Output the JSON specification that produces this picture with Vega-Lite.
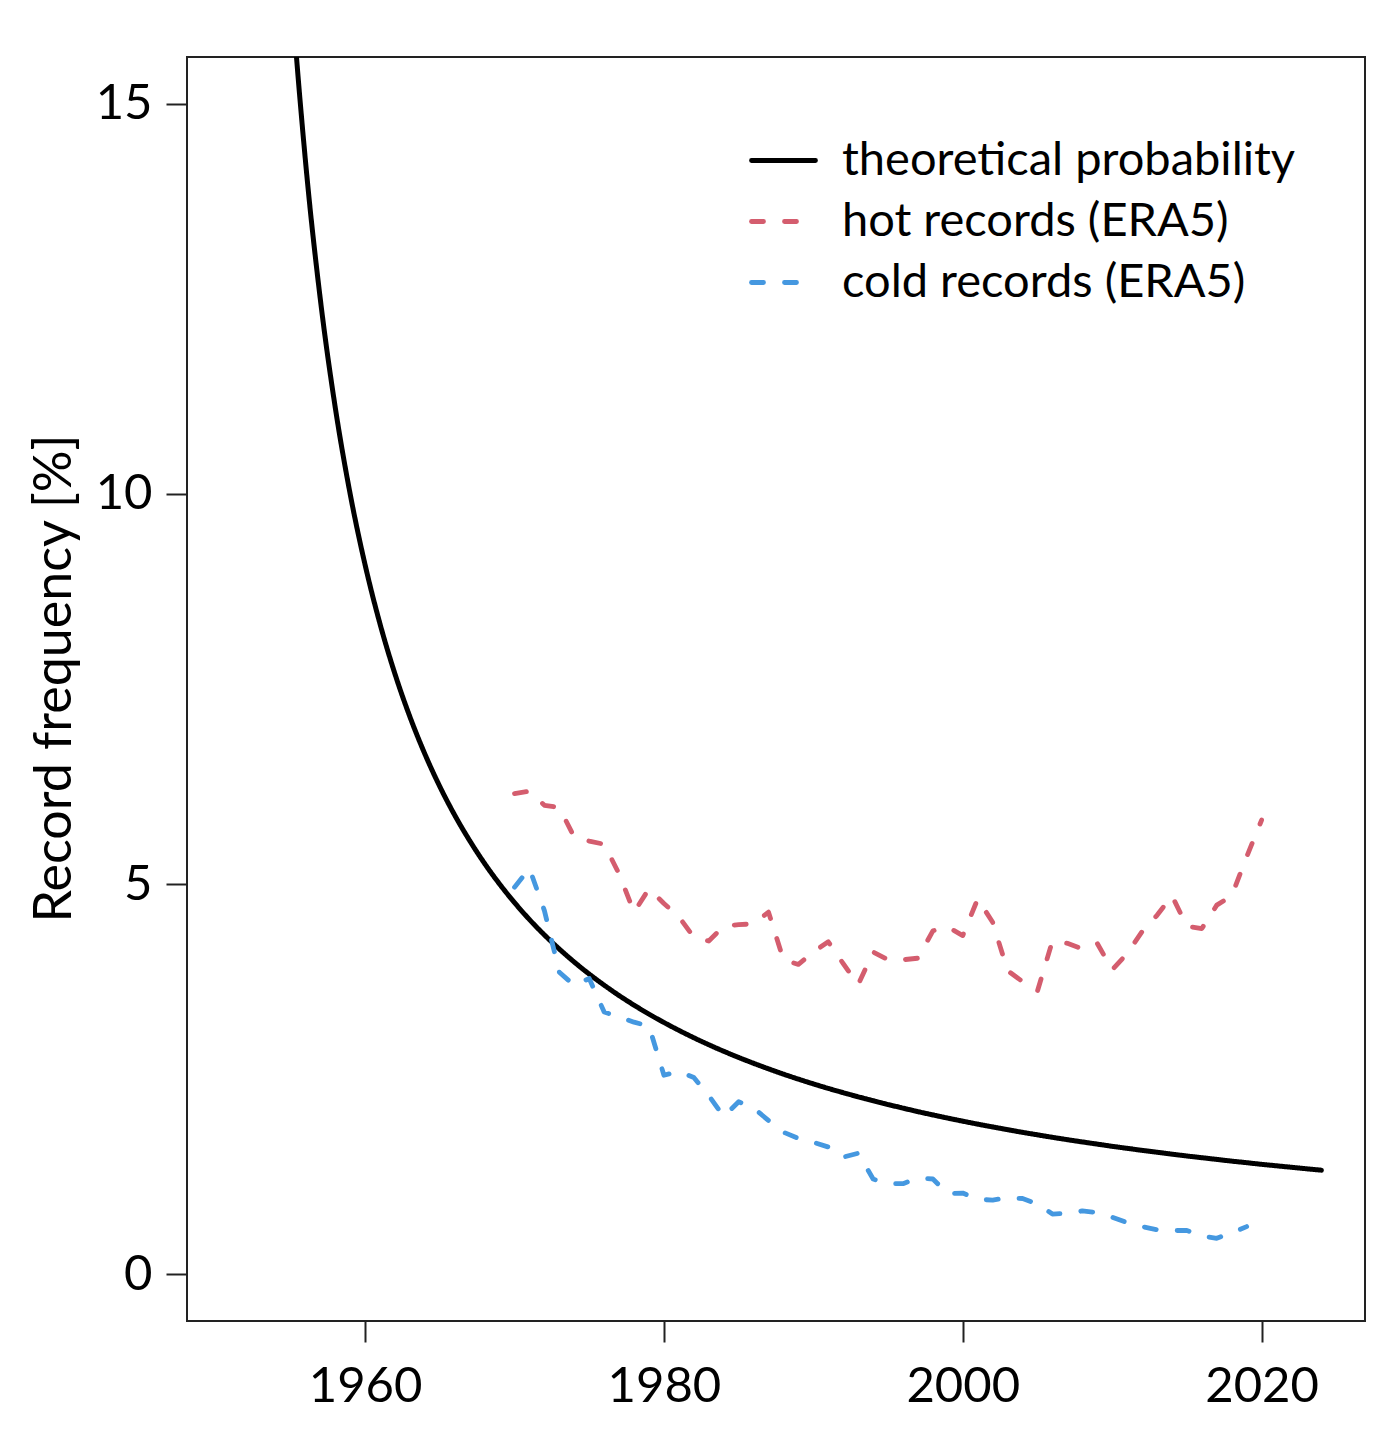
{
  "$schema": "https://vega.github.io/schema/vega-lite/v6.json",
  "width": 1178,
  "height": 1264,
  "autosize": "none",
  "padding": {"left": 187, "top": 57, "right": 27, "bottom": 111},
  "background": "white",
  "config": {
    "font": "Lato",
    "view": {"stroke": "#222222", "strokeWidth": 2},
    "axis": {
      "domain": false,
      "grid": false,
      "ticks": true,
      "tickColor": "#222222",
      "tickWidth": 2,
      "tickSize": 21,
      "labelColor": "black",
      "labelFont": "Lato",
      "labelFontSize": 49,
      "labelFlush": false,
      "labelOverlap": false,
      "titleFont": "Lato",
      "titleFontSize": 52,
      "titleFontWeight": "normal",
      "titleColor": "black"
    },
    "legend": {
      "symbolType": "stroke",
      "symbolSize": 4096,
      "symbolStrokeWidth": 4.8,
      "labelFont": "Lato",
      "labelFontSize": 47,
      "labelColor": "black",
      "labelOffset": 24,
      "labelLimit": 0,
      "rowPadding": 3,
      "padding": 0
    }
  },
  "datasets": {
    "records": [
      {"year": 1951, "series": "theoretical probability", "value": 50},
      {"year": 1952, "series": "theoretical probability", "value": 33.333},
      {"year": 1953, "series": "theoretical probability", "value": 25},
      {"year": 1954, "series": "theoretical probability", "value": 20},
      {"year": 1955, "series": "theoretical probability", "value": 16.667},
      {"year": 1956, "series": "theoretical probability", "value": 14.286},
      {"year": 1957, "series": "theoretical probability", "value": 12.5},
      {"year": 1958, "series": "theoretical probability", "value": 11.111},
      {"year": 1959, "series": "theoretical probability", "value": 10},
      {"year": 1960, "series": "theoretical probability", "value": 9.091},
      {"year": 1961, "series": "theoretical probability", "value": 8.333},
      {"year": 1962, "series": "theoretical probability", "value": 7.692},
      {"year": 1963, "series": "theoretical probability", "value": 7.143},
      {"year": 1964, "series": "theoretical probability", "value": 6.667},
      {"year": 1965, "series": "theoretical probability", "value": 6.25},
      {"year": 1966, "series": "theoretical probability", "value": 5.882},
      {"year": 1967, "series": "theoretical probability", "value": 5.556},
      {"year": 1968, "series": "theoretical probability", "value": 5.263},
      {"year": 1969, "series": "theoretical probability", "value": 5},
      {"year": 1970, "series": "theoretical probability", "value": 4.762},
      {"year": 1971, "series": "theoretical probability", "value": 4.545},
      {"year": 1972, "series": "theoretical probability", "value": 4.348},
      {"year": 1973, "series": "theoretical probability", "value": 4.167},
      {"year": 1974, "series": "theoretical probability", "value": 4},
      {"year": 1975, "series": "theoretical probability", "value": 3.846},
      {"year": 1976, "series": "theoretical probability", "value": 3.704},
      {"year": 1977, "series": "theoretical probability", "value": 3.571},
      {"year": 1978, "series": "theoretical probability", "value": 3.448},
      {"year": 1979, "series": "theoretical probability", "value": 3.333},
      {"year": 1980, "series": "theoretical probability", "value": 3.226},
      {"year": 1981, "series": "theoretical probability", "value": 3.125},
      {"year": 1982, "series": "theoretical probability", "value": 3.03},
      {"year": 1983, "series": "theoretical probability", "value": 2.941},
      {"year": 1984, "series": "theoretical probability", "value": 2.857},
      {"year": 1985, "series": "theoretical probability", "value": 2.778},
      {"year": 1986, "series": "theoretical probability", "value": 2.703},
      {"year": 1987, "series": "theoretical probability", "value": 2.632},
      {"year": 1988, "series": "theoretical probability", "value": 2.564},
      {"year": 1989, "series": "theoretical probability", "value": 2.5},
      {"year": 1990, "series": "theoretical probability", "value": 2.439},
      {"year": 1991, "series": "theoretical probability", "value": 2.381},
      {"year": 1992, "series": "theoretical probability", "value": 2.326},
      {"year": 1993, "series": "theoretical probability", "value": 2.273},
      {"year": 1994, "series": "theoretical probability", "value": 2.222},
      {"year": 1995, "series": "theoretical probability", "value": 2.174},
      {"year": 1996, "series": "theoretical probability", "value": 2.128},
      {"year": 1997, "series": "theoretical probability", "value": 2.083},
      {"year": 1998, "series": "theoretical probability", "value": 2.041},
      {"year": 1999, "series": "theoretical probability", "value": 2},
      {"year": 2000, "series": "theoretical probability", "value": 1.961},
      {"year": 2001, "series": "theoretical probability", "value": 1.923},
      {"year": 2002, "series": "theoretical probability", "value": 1.887},
      {"year": 2003, "series": "theoretical probability", "value": 1.852},
      {"year": 2004, "series": "theoretical probability", "value": 1.818},
      {"year": 2005, "series": "theoretical probability", "value": 1.786},
      {"year": 2006, "series": "theoretical probability", "value": 1.754},
      {"year": 2007, "series": "theoretical probability", "value": 1.724},
      {"year": 2008, "series": "theoretical probability", "value": 1.695},
      {"year": 2009, "series": "theoretical probability", "value": 1.667},
      {"year": 2010, "series": "theoretical probability", "value": 1.639},
      {"year": 2011, "series": "theoretical probability", "value": 1.613},
      {"year": 2012, "series": "theoretical probability", "value": 1.587},
      {"year": 2013, "series": "theoretical probability", "value": 1.563},
      {"year": 2014, "series": "theoretical probability", "value": 1.538},
      {"year": 2015, "series": "theoretical probability", "value": 1.515},
      {"year": 2016, "series": "theoretical probability", "value": 1.493},
      {"year": 2017, "series": "theoretical probability", "value": 1.471},
      {"year": 2018, "series": "theoretical probability", "value": 1.449},
      {"year": 2019, "series": "theoretical probability", "value": 1.429},
      {"year": 2020, "series": "theoretical probability", "value": 1.408},
      {"year": 2021, "series": "theoretical probability", "value": 1.389},
      {"year": 2022, "series": "theoretical probability", "value": 1.37},
      {"year": 2023, "series": "theoretical probability", "value": 1.351},
      {"year": 2024, "series": "theoretical probability", "value": 1.333},
      {"year": 1970, "series": "hot records (ERA5)", "value": 6.16},
      {"year": 1971, "series": "hot records (ERA5)", "value": 6.19},
      {"year": 1972, "series": "hot records (ERA5)", "value": 6.01},
      {"year": 1973, "series": "hot records (ERA5)", "value": 5.98},
      {"year": 1974, "series": "hot records (ERA5)", "value": 5.6},
      {"year": 1975, "series": "hot records (ERA5)", "value": 5.55},
      {"year": 1976, "series": "hot records (ERA5)", "value": 5.51},
      {"year": 1977, "series": "hot records (ERA5)", "value": 5.13},
      {"year": 1978, "series": "hot records (ERA5)", "value": 4.64},
      {"year": 1979, "series": "hot records (ERA5)", "value": 4.94},
      {"year": 1980, "series": "hot records (ERA5)", "value": 4.75},
      {"year": 1981, "series": "hot records (ERA5)", "value": 4.58},
      {"year": 1982, "series": "hot records (ERA5)", "value": 4.32},
      {"year": 1983, "series": "hot records (ERA5)", "value": 4.27},
      {"year": 1984, "series": "hot records (ERA5)", "value": 4.46},
      {"year": 1985, "series": "hot records (ERA5)", "value": 4.48},
      {"year": 1986, "series": "hot records (ERA5)", "value": 4.49},
      {"year": 1987, "series": "hot records (ERA5)", "value": 4.64},
      {"year": 1988, "series": "hot records (ERA5)", "value": 4.03},
      {"year": 1989, "series": "hot records (ERA5)", "value": 3.97},
      {"year": 1990, "series": "hot records (ERA5)", "value": 4.13},
      {"year": 1991, "series": "hot records (ERA5)", "value": 4.26},
      {"year": 1992, "series": "hot records (ERA5)", "value": 3.98},
      {"year": 1993, "series": "hot records (ERA5)", "value": 3.71},
      {"year": 1994, "series": "hot records (ERA5)", "value": 4.13},
      {"year": 1995, "series": "hot records (ERA5)", "value": 4.03},
      {"year": 1996, "series": "hot records (ERA5)", "value": 4.03},
      {"year": 1997, "series": "hot records (ERA5)", "value": 4.05},
      {"year": 1998, "series": "hot records (ERA5)", "value": 4.4},
      {"year": 1999, "series": "hot records (ERA5)", "value": 4.45},
      {"year": 2000, "series": "hot records (ERA5)", "value": 4.34},
      {"year": 2001, "series": "hot records (ERA5)", "value": 4.81},
      {"year": 2002, "series": "hot records (ERA5)", "value": 4.51},
      {"year": 2003, "series": "hot records (ERA5)", "value": 3.89},
      {"year": 2004, "series": "hot records (ERA5)", "value": 3.75},
      {"year": 2005, "series": "hot records (ERA5)", "value": 3.63},
      {"year": 2006, "series": "hot records (ERA5)", "value": 4.27},
      {"year": 2007, "series": "hot records (ERA5)", "value": 4.24},
      {"year": 2008, "series": "hot records (ERA5)", "value": 4.17},
      {"year": 2009, "series": "hot records (ERA5)", "value": 4.24},
      {"year": 2010, "series": "hot records (ERA5)", "value": 3.9},
      {"year": 2011, "series": "hot records (ERA5)", "value": 4.11},
      {"year": 2012, "series": "hot records (ERA5)", "value": 4.39},
      {"year": 2013, "series": "hot records (ERA5)", "value": 4.6},
      {"year": 2014, "series": "hot records (ERA5)", "value": 4.85},
      {"year": 2015, "series": "hot records (ERA5)", "value": 4.46},
      {"year": 2016, "series": "hot records (ERA5)", "value": 4.43},
      {"year": 2017, "series": "hot records (ERA5)", "value": 4.73},
      {"year": 2018, "series": "hot records (ERA5)", "value": 4.85},
      {"year": 2019, "series": "hot records (ERA5)", "value": 5.35},
      {"year": 2020, "series": "hot records (ERA5)", "value": 5.82},
      {"year": 1970, "series": "cold records (ERA5)", "value": 4.96},
      {"year": 1971, "series": "cold records (ERA5)", "value": 5.2},
      {"year": 1972, "series": "cold records (ERA5)", "value": 4.66},
      {"year": 1973, "series": "cold records (ERA5)", "value": 3.87},
      {"year": 1974, "series": "cold records (ERA5)", "value": 3.7},
      {"year": 1975, "series": "cold records (ERA5)", "value": 3.79},
      {"year": 1976, "series": "cold records (ERA5)", "value": 3.36},
      {"year": 1977, "series": "cold records (ERA5)", "value": 3.3},
      {"year": 1978, "series": "cold records (ERA5)", "value": 3.23},
      {"year": 1979, "series": "cold records (ERA5)", "value": 3.18},
      {"year": 1980, "series": "cold records (ERA5)", "value": 2.55},
      {"year": 1981, "series": "cold records (ERA5)", "value": 2.6},
      {"year": 1982, "series": "cold records (ERA5)", "value": 2.52},
      {"year": 1983, "series": "cold records (ERA5)", "value": 2.29},
      {"year": 1984, "series": "cold records (ERA5)", "value": 2.02},
      {"year": 1985, "series": "cold records (ERA5)", "value": 2.21},
      {"year": 1986, "series": "cold records (ERA5)", "value": 2.13},
      {"year": 1987, "series": "cold records (ERA5)", "value": 1.97},
      {"year": 1988, "series": "cold records (ERA5)", "value": 1.82},
      {"year": 1989, "series": "cold records (ERA5)", "value": 1.74},
      {"year": 1990, "series": "cold records (ERA5)", "value": 1.69},
      {"year": 1991, "series": "cold records (ERA5)", "value": 1.63},
      {"year": 1992, "series": "cold records (ERA5)", "value": 1.5},
      {"year": 1993, "series": "cold records (ERA5)", "value": 1.55},
      {"year": 1994, "series": "cold records (ERA5)", "value": 1.22},
      {"year": 1995, "series": "cold records (ERA5)", "value": 1.16},
      {"year": 1996, "series": "cold records (ERA5)", "value": 1.16},
      {"year": 1997, "series": "cold records (ERA5)", "value": 1.23},
      {"year": 1998, "series": "cold records (ERA5)", "value": 1.22},
      {"year": 1999, "series": "cold records (ERA5)", "value": 1.03},
      {"year": 2000, "series": "cold records (ERA5)", "value": 1.04},
      {"year": 2001, "series": "cold records (ERA5)", "value": 0.96},
      {"year": 2002, "series": "cold records (ERA5)", "value": 0.95},
      {"year": 2003, "series": "cold records (ERA5)", "value": 0.98},
      {"year": 2004, "series": "cold records (ERA5)", "value": 0.97},
      {"year": 2005, "series": "cold records (ERA5)", "value": 0.9},
      {"year": 2006, "series": "cold records (ERA5)", "value": 0.77},
      {"year": 2007, "series": "cold records (ERA5)", "value": 0.78},
      {"year": 2008, "series": "cold records (ERA5)", "value": 0.81},
      {"year": 2009, "series": "cold records (ERA5)", "value": 0.79},
      {"year": 2010, "series": "cold records (ERA5)", "value": 0.73},
      {"year": 2011, "series": "cold records (ERA5)", "value": 0.66},
      {"year": 2012, "series": "cold records (ERA5)", "value": 0.61},
      {"year": 2013, "series": "cold records (ERA5)", "value": 0.57},
      {"year": 2014, "series": "cold records (ERA5)", "value": 0.56},
      {"year": 2015, "series": "cold records (ERA5)", "value": 0.56},
      {"year": 2016, "series": "cold records (ERA5)", "value": 0.49},
      {"year": 2017, "series": "cold records (ERA5)", "value": 0.46},
      {"year": 2018, "series": "cold records (ERA5)", "value": 0.53},
      {"year": 2019, "series": "cold records (ERA5)", "value": 0.61}
    ]
  },
  "data": {"name": "records"},
  "encoding": {
    "x": {
      "field": "year",
      "type": "quantitative",
      "scale": {"domain": [1948.08, 2026.92], "nice": false, "zero": false},
      "axis": {"values": [1960, 1980, 2000, 2020], "format": "d", "title": null, "labelPadding": 20}
    },
    "y": {
      "field": "value",
      "type": "quantitative",
      "scale": {"domain": [-0.6, 15.6], "nice": false, "zero": false},
      "axis": {
        "values": [0, 5, 10, 15],
        "title": "Record frequency [%]",
        "labelPadding": 14,
        "titleAngle": -90,
        "titleAlign": "center",
        "titleBaseline": "alphabetic",
        "titleX": -117,
        "titleY": 621
      }
    },
    "color": {
      "field": "series",
      "type": "nominal",
      "scale": {
        "domain": ["theoretical probability", "hot records (ERA5)", "cold records (ERA5)"],
        "range": ["black", "#D45D6E", "#4598E0"]
      },
      "legend": {
        "title": null,
        "orient": "none",
        "legendX": 562,
        "legendY": 69,
        "encode": {"symbols": {"update": {"strokeCap": {"value": "round"}}}}
      }
    },
    "strokeDash": {
      "field": "series",
      "type": "nominal",
      "scale": {
        "domain": ["theoretical probability", "hot records (ERA5)", "cold records (ERA5)"],
        "range": [[1, 0], [12, 21], [12, 21]]
      },
      "legend": {
        "title": null,
        "orient": "none",
        "legendX": 562,
        "legendY": 69,
        "encode": {"symbols": {"update": {"strokeCap": {"value": "round"}}}}
      }
    }
  },
  "layer": [
    {
      "transform": [{"filter": "datum.series === 'theoretical probability'"}],
      "mark": {"type": "line", "interpolate": "monotone", "clip": true, "strokeWidth": 5, "strokeCap": "round"}
    },
    {
      "transform": [{"filter": "datum.series !== 'theoretical probability'"}],
      "mark": {"type": "line", "clip": true, "strokeWidth": 4.8, "strokeCap": "round", "strokeJoin": "round"}
    }
  ]
}
